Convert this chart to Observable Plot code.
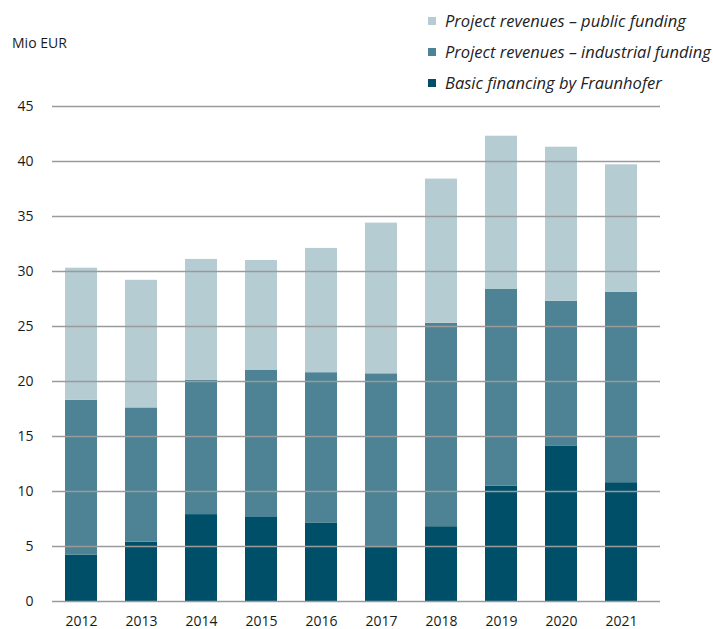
<!DOCTYPE html>
<html>
<head>
<meta charset="utf-8">
<script src="https://cdn.jsdelivr.net/npm/d3@7"></script>
<script src="https://cdn.jsdelivr.net/npm/@observablehq/plot@0.6"></script>
<style>
  html, body { margin: 0; padding: 0; background: #fff; }
  #wrap { position: relative; width: 713px; height: 629px; overflow: hidden; font-family: "Open Sans", sans-serif; }
  #unit { position: absolute; left: 12px; top: 33px; font-size: 14px; color: #1a1a1a; }
  #legend { position: absolute; left: 428px; top: 5px; }
  .li { display: flex; align-items: center; height: 31px; font-style: italic; font-size: 16.5px; color: #222; white-space: nowrap; }
  .sw { width: 8px; height: 8px; margin-right: 9px; }
  #chart { position: absolute; left: 0; top: 0; }
</style>
</head>
<body>
<div id="wrap">
  <div id="chart"></div>
  <div id="unit">Mio EUR</div>
  <div id="legend"></div>
</div>
<script>
const years = ["2012","2013","2014","2015","2016","2017","2018","2019","2020","2021"];
const basicFinancing = [4.2, 5.4, 7.9, 7.7, 7.1, 4.9, 6.8, 10.5, 14.1, 10.8];
const industrialFunding = [14.1, 12.2, 12.2, 13.3, 13.7, 15.8, 18.5, 17.9, 13.2, 17.3];
const publicFunding = [12.0, 11.6, 11.0, 10.0, 11.3, 13.7, 13.1, 13.9, 14.0, 11.6];
const seriesNames = ["Basic financing by Fraunhofer", "Project revenues – industrial funding", "Project revenues – public funding"];
const seriesColors = ["#004f68", "#4d8394", "#b5ccd3"];
const yTicks = [0, 5, 10, 15, 20, 25, 30, 35, 40, 45];

const seriesValues = [basicFinancing, industrialFunding, publicFunding];
const data = [];
seriesNames.forEach((s, k) => years.forEach((y, i) => data.push({year: y, series: s, value: seriesValues[k][i]})));

const chart = Plot.plot({
  width: 713,
  height: 629,
  marginLeft: 52,
  marginRight: 53,
  marginTop: 106,
  marginBottom: 28,
  style: {fontFamily: "Open Sans, sans-serif", fontSize: "14px", color: "#1a1a1a"},
  x: {domain: years, range: [51, 650], paddingInner: 0.47, paddingOuter: 0.2, label: null},
  y: {domain: [0, 45], ticks: yTicks, label: null},
  color: {domain: seriesNames, range: seriesColors},
  marks: [
    Plot.barY(data, {x: "year", y: "value", fill: "series", order: seriesNames}),
    Plot.ruleY(yTicks, {stroke: "#9a9a9a", strokeWidth: 1.3}),
    Plot.axisX({tickSize: 0, tickPadding: 15, fontSize: 14}),
    Plot.axisY({ticks: yTicks, tickSize: 0, tickPadding: 19, fontSize: 14})
  ]
});
document.getElementById("chart").appendChild(chart);

const legend = document.getElementById("legend");
[2, 1, 0].forEach(k => {
  const row = document.createElement("div");
  row.className = "li";
  const sw = document.createElement("span");
  sw.className = "sw";
  sw.style.background = seriesColors[k];
  const t = document.createElement("span");
  t.textContent = seriesNames[k];
  row.appendChild(sw); row.appendChild(t);
  legend.appendChild(row);
});
</script>
</body>
</html>
